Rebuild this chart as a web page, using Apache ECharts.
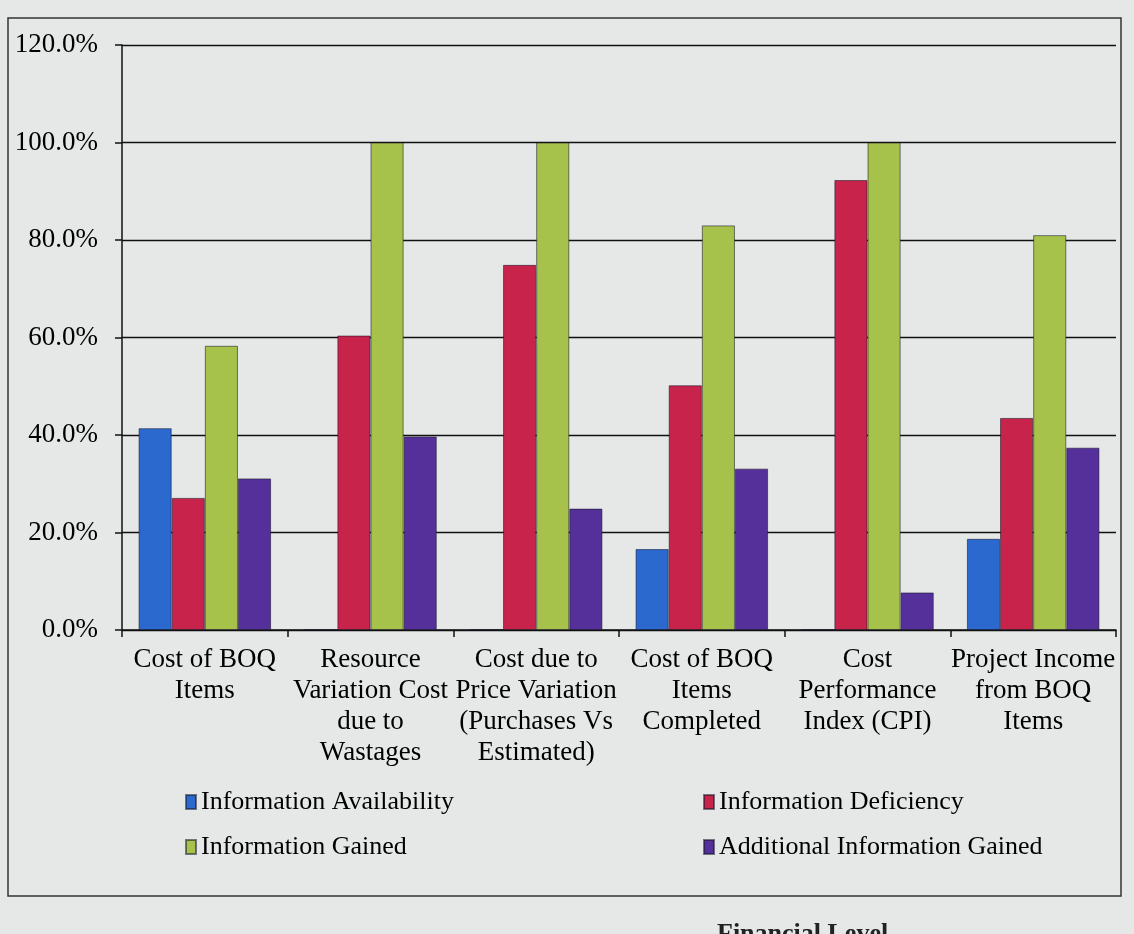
<!DOCTYPE html>
<html>
<head>
<meta charset="utf-8">
<script src="https://cdn.jsdelivr.net/npm/echarts@6/dist/echarts.min.js"></script>
<style>
html,body{margin:0;padding:0;background:#e6e8e7;}
#chart{width:1134px;height:934px;}
</style>
</head>
<body>
<div id="chart"></div>
<script>
var categories = [
  'Cost of BOQ\nItems',
  'Resource\nVariation Cost\ndue to\nWastages',
  'Cost due to\nPrice Variation\n(Purchases Vs\nEstimated)',
  'Cost of BOQ\nItems\nCompleted',
  'Cost\nPerformance\nIndex (CPI)',
  'Project Income\nfrom BOQ\nItems'
];
var seriesNames = ['Information Availability', 'Information Deficiency', 'Information Gained', 'Additional Information Gained'];
var availability = [41.4, 0, 0, 16.6, 0, 18.7];
var deficiency   = [27.1, 60.4, 74.9, 50.2, 92.3, 43.5];
var gained       = [58.3, 100.0, 100.0, 83.0, 100.0, 81.0];
var additional   = [31.1, 39.7, 24.9, 33.1, 7.7, 37.4];
var yTicks = [0, 20, 40, 60, 80, 100, 120];

var colors = ['#2b69cf', '#c8234b', '#a6c24b', '#56309a'];
var serif = '"Liberation Serif", "DejaVu Serif", serif';

var chart = echarts.init(document.getElementById('chart'));
var values = [availability, deficiency, gained, additional];

var legendText = {fontSize: 26, fontFamily: serif, color: '#000'};
chart.setOption({
  backgroundColor: '#e6e8e7',
  animation: false,
  title: {
    text: 'Financial Level',
    left: 712, top: 916,
    textStyle: {fontSize: 26, fontFamily: serif, fontWeight: 'bold', color: '#222'}
  },
  graphic: [{
    type: 'rect', silent: true,
    shape: {x: 8, y: 18, width: 1113, height: 878},
    style: {fill: 'none', stroke: '#333', lineWidth: 1.5}
  }],
  legend: [{
    data: [seriesNames[0], seriesNames[2]],
    orient: 'vertical', left: 180, top: 784, itemGap: 19,
    itemWidth: 10, itemHeight: 14, icon: 'rect',
    textStyle: legendText
  }, {
    data: [seriesNames[1], seriesNames[3]],
    orient: 'vertical', left: 698, top: 784, itemGap: 19,
    itemWidth: 10, itemHeight: 14, icon: 'rect',
    textStyle: legendText
  }],
  grid: {left: 122, right: 18, top: 45, bottom: 304, containLabel: false},
  xAxis: {
    type: 'category',
    data: categories,
    axisLine: {lineStyle: {color: '#111', width: 1.5}},
    axisTick: {show: true, length: 7, lineStyle: {color: '#111', width: 1.5}},
    axisLabel: {
      interval: 0, margin: 14,
      fontSize: 27, lineHeight: 31, fontFamily: serif, color: '#000', align: 'center'
    }
  },
  yAxis: {
    type: 'value',
    min: yTicks[0], max: yTicks[yTicks.length - 1], interval: 20,
    axisLine: {show: true, lineStyle: {color: '#111', width: 1.5}},
    axisTick: {show: true, length: 7, lineStyle: {color: '#111', width: 1.5}},
    axisLabel: {
      margin: 24, fontSize: 27, fontFamily: serif, color: '#000',
      formatter: function (v) { return v.toFixed(1) + '%'; }
    },
    splitLine: {lineStyle: {color: '#111', width: 1.4}}
  },
  series: seriesNames.map(function (name, i) {
    return {
      name: name,
      type: 'bar',
      data: values[i],
      barGap: '0%',
      barCategoryGap: '20%',
      itemStyle: {color: colors[i], borderColor: 'rgba(20,20,40,0.55)', borderWidth: 1}
    };
  })
});
</script>
</body>
</html>
